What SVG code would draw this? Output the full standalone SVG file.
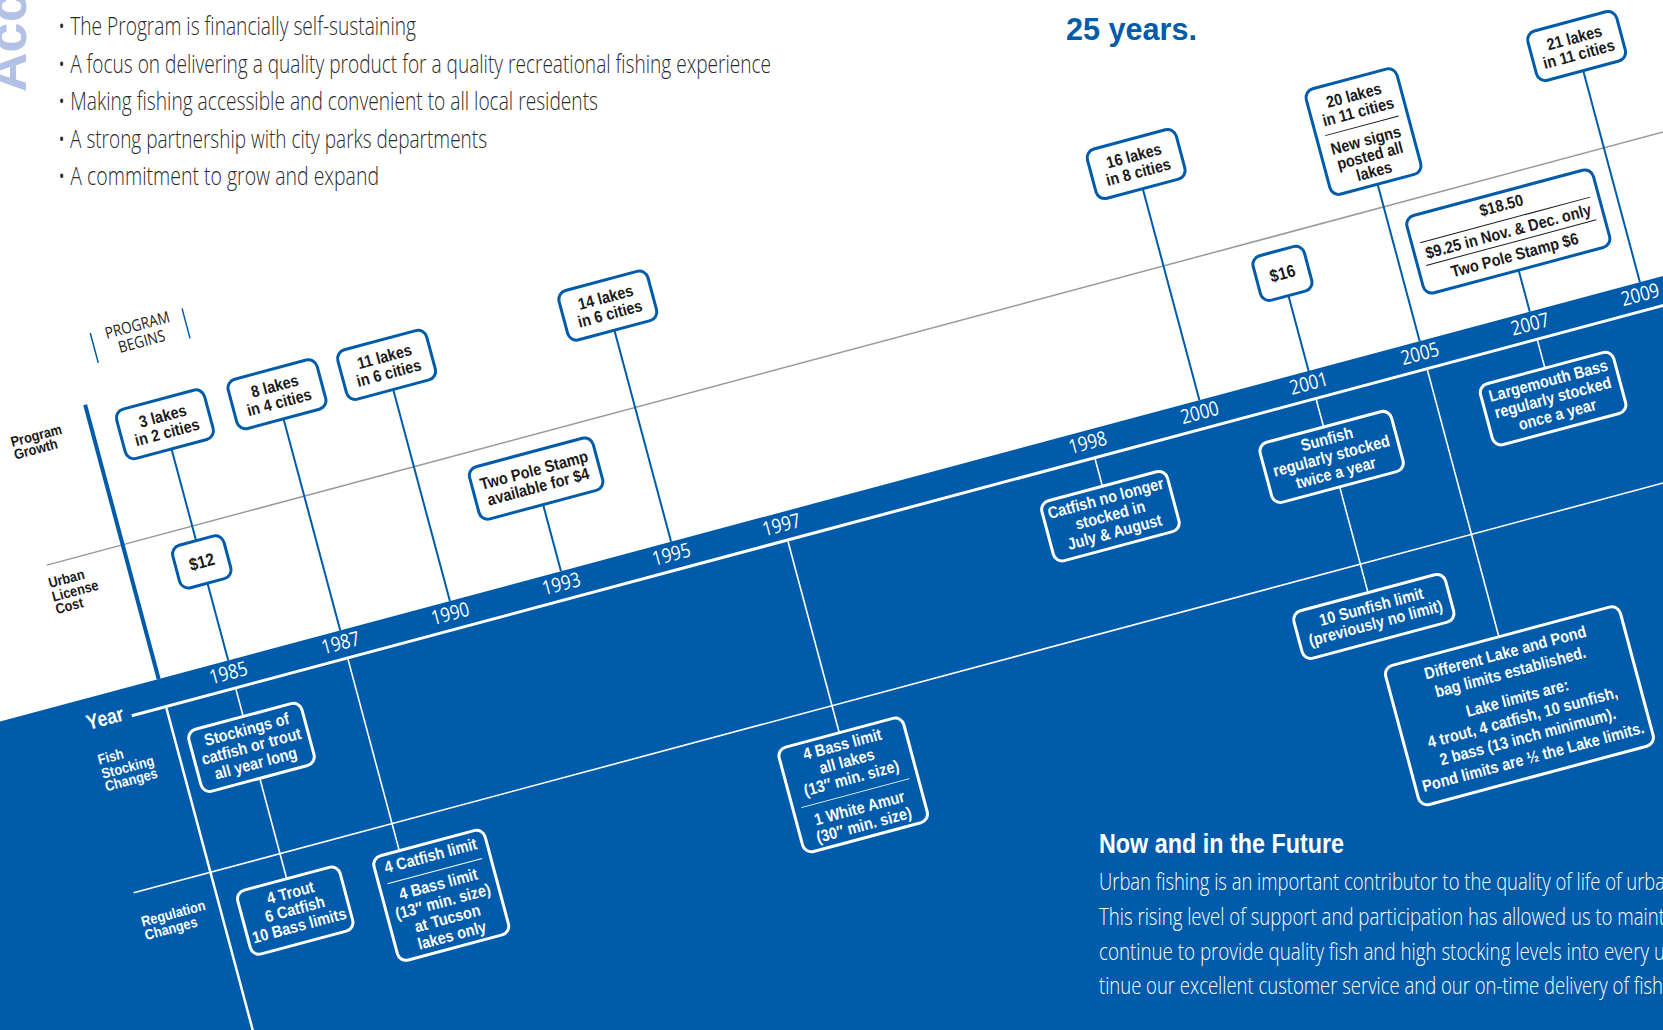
<svg xmlns="http://www.w3.org/2000/svg" width="1663" height="1030" viewBox="0 0 1663 1030">
<style>
.bx{fill:#fff;stroke:#005BAA;stroke-width:3}
.bb{fill:#005BAA;stroke:#fff;stroke-width:3}
.t{font-family:"Liberation Sans",Arial,sans-serif;font-weight:700;font-size:16.5px;text-anchor:middle}
.tk{fill:#1a1a1a}
.tw{fill:#fff}
.dk{stroke:#1a1a1a;stroke-width:1}
.dw{stroke:#fff;stroke-width:1}
.cb{stroke:#005BAA;stroke-width:2;fill:none}
.cw{stroke:#fff;stroke-width:1.6;fill:none}
.yr{font-family:"Open Sans","Liberation Sans",sans-serif;font-weight:400;font-size:20px;fill:#fff;text-anchor:middle}
.lb{font-family:"Liberation Sans",Arial,sans-serif;font-weight:700;font-size:14.5px}
.body{font-family:"Open Sans","Liberation Sans",sans-serif;font-weight:300}
</style>
<rect x="0" y="0" width="1663" height="1030" fill="#fff"/>
<text transform="translate(26,92) rotate(-90)" font-family="Liberation Sans, Arial, sans-serif" font-weight="700" font-size="56" fill="#b3c1e6" textLength="100" lengthAdjust="spacingAndGlyphs">Acc</text>
<g id="intro" class="body" font-size="25" fill="#2a2a2a">
<text x="58" y="35" textLength="358" lengthAdjust="spacingAndGlyphs">• The Program is financially self-sustaining</text>
<text x="58" y="72.5" textLength="713" lengthAdjust="spacingAndGlyphs">• A focus on delivering a quality product for a quality recreational fishing experience</text>
<text x="58" y="110" textLength="540" lengthAdjust="spacingAndGlyphs">• Making fishing accessible and convenient to all local residents</text>
<text x="58" y="147.5" textLength="429" lengthAdjust="spacingAndGlyphs">• A strong partnership with city parks departments</text>
<text x="58" y="185" textLength="321" lengthAdjust="spacingAndGlyphs">• A commitment to grow and expand</text>
</g>
<text id="title" x="1066" y="40" font-family="Liberation Sans, Arial, sans-serif" font-weight="700" font-size="31" fill="#005BAA" textLength="131" lengthAdjust="spacingAndGlyphs">25 years.</text>

<g id="timeline" transform="rotate(-15)">
  <g id="axes">
    <rect x="-400" y="697" width="2300" height="900" fill="#005BAA"/>
    <line x1="-101" y1="558" x2="1650" y2="558" stroke="#999" stroke-width="1.5"/>
    <line x1="-58" y1="725.5" x2="1800" y2="725.5" stroke="#fff" stroke-width="3"/>
    <line x1="-102" y1="897" x2="1800" y2="897" stroke="#fff" stroke-width="1.6"/>
    <line x1="-22.5" y1="413" x2="-22.5" y2="697" stroke="#005BAA" stroke-width="4"/>
    <line x1="-22.5" y1="727" x2="-22.5" y2="1120" stroke="#fff" stroke-width="2.5"/>
    <line x1="1" y1="345" x2="1" y2="376" stroke="#005BAA" stroke-width="1.5"/>
    <line x1="96" y1="345" x2="96" y2="376" stroke="#005BAA" stroke-width="1.5"/>
  </g>
  <g id="labels">
    <g transform="translate(48.5,0) scale(0.85,1)" font-family="Open Sans, Liberation Sans, sans-serif" font-weight="400" font-size="16" fill="#222" text-anchor="middle">
      <text y="355">PROGRAM</text><text y="372">BEGINS</text>
    </g>
    <g transform="translate(-104,0) scale(0.88,1)" class="lb" fill="#1a1a1a">
      <text y="435">Program</text><text y="448">Growth</text>
      <text y="581">Urban</text><text y="595">License</text><text y="608">Cost</text>
    </g>
    <g transform="translate(-102,0) scale(0.88,1)" class="lb" fill="#fff">
      <text y="764.5">Fish</text><text y="779">Stocking</text><text y="792">Changes</text>
      <text y="932">Regulation</text><text y="946">Changes</text>
    </g>
    <g transform="translate(-84.5,728) scale(0.85,1)"><text font-family="Liberation Sans, Arial, sans-serif" font-weight="700" font-size="21" fill="#fff" text-anchor="middle">Year</text></g>
  </g>
  <g id="years">
    <g transform="translate(46.5,716) scale(0.85,1)"><text class="yr">1985</text></g>
    <g transform="translate(162.5,716) scale(0.85,1)"><text class="yr">1987</text></g>
    <g transform="translate(276,716) scale(0.85,1)"><text class="yr">1990</text></g>
    <g transform="translate(391,716) scale(0.85,1)"><text class="yr">1993</text></g>
    <g transform="translate(505,716) scale(0.85,1)"><text class="yr">1995</text></g>
    <g transform="translate(619,716) scale(0.85,1)"><text class="yr">1997</text></g>
    <g transform="translate(936,716) scale(0.85,1)"><text class="yr">1998</text></g>
    <g transform="translate(1052,716) scale(0.85,1)"><text class="yr">2000</text></g>
    <g transform="translate(1165,716) scale(0.85,1)"><text class="yr">2001</text></g>
    <g transform="translate(1280,716) scale(0.85,1)"><text class="yr">2005</text></g>
    <g transform="translate(1394,716) scale(0.85,1)"><text class="yr">2007</text></g>
    <g transform="translate(1508,716) scale(0.85,1)"><text class="yr">2009</text></g>
  </g>
  <g id="connectors">
    <line class="cb" x1="49.5" y1="478" x2="49.5" y2="573"/>
    <line class="cb" x1="49.5" y1="617" x2="49.5" y2="697"/>
    <line class="cb" x1="165.5" y1="477.5" x2="165.5" y2="697"/>
    <line class="cb" x1="279" y1="477.5" x2="279" y2="697"/>
    <line class="cb" x1="394" y1="628" x2="394" y2="697"/>
    <line class="cb" x1="508" y1="478" x2="508" y2="697"/>
    <line class="cb" x1="1055" y1="478" x2="1055" y2="697"/>
    <line class="cb" x1="1168" y1="619" x2="1168" y2="697"/>
    <line class="cb" x1="1283" y1="534.5" x2="1283" y2="697"/>
    <line class="cb" x1="1397" y1="654" x2="1397" y2="697"/>
    <line class="cb" x1="1511" y1="478" x2="1511" y2="697"/>
    <line class="cw" x1="49.5" y1="727" x2="49.5" y2="755"/>
    <line class="cw" x1="49.5" y1="819" x2="49.5" y2="923"/>
    <line class="cw" x1="165.5" y1="727" x2="165.5" y2="925"/>
    <line class="cw" x1="621" y1="727" x2="621" y2="925"/>
    <line class="cw" x1="939" y1="727" x2="939" y2="755"/>
    <line class="cw" x1="1168" y1="727" x2="1168" y2="755"/>
    <line class="cw" x1="1168" y1="817" x2="1168" y2="926.5"/>
    <line class="cw" x1="1283" y1="727" x2="1283" y2="1003"/>
    <line class="cw" x1="1397" y1="727" x2="1397" y2="755.5"/>
  </g>

  <g id="n-1985-growth" transform="translate(49.5,452.5)"><rect class="bx" x="-45.5" y="-25.5" width="91" height="51" rx="9"/><g class="t tk" transform="scale(0.88,1)"><text y="-3">3 lakes</text><text y="14">in 2 cities</text></g></g>
  <g id="n-1987-growth" transform="translate(165.5,452.5)"><rect class="bx" x="-46" y="-25.5" width="92" height="51" rx="9"/><g class="t tk" transform="scale(0.88,1)"><text y="-3">8 lakes</text><text y="14">in 4 cities</text></g></g>
  <g id="n-1990-growth" transform="translate(279,452.5)"><rect class="bx" x="-46" y="-25.5" width="92" height="51" rx="9"/><g class="t tk" transform="scale(0.88,1)"><text y="-3">11 lakes</text><text y="14">in 6 cities</text></g></g>
  <g id="n-1995-growth" transform="translate(508,452.5)"><rect class="bx" x="-46" y="-25.5" width="92" height="51" rx="9"/><g class="t tk" transform="scale(0.88,1)"><text y="-3">14 lakes</text><text y="14">in 6 cities</text></g></g>
  <g id="n-2000-growth" transform="translate(1055,452.5)"><rect class="bx" x="-46" y="-25.5" width="92" height="51" rx="9"/><g class="t tk" transform="scale(0.88,1)"><text y="-3">16 lakes</text><text y="14">in 8 cities</text></g></g>
  <g id="n-2005-growth" transform="translate(1283,480)"><rect class="bx" x="-47" y="-54.5" width="94" height="109" rx="9"/><line class="dk" x1="-38" y1="-6" x2="38" y2="-6"/><g class="t tk" transform="scale(0.88,1)"><text y="-32">20 lakes</text><text y="-15">in 11 cities</text><text y="14.5">New signs</text><text y="30.5">posted all</text><text y="46.5">lakes</text></g></g>
  <g id="n-2009-growth" transform="translate(1511,452.5)"><rect class="bx" x="-46" y="-25.5" width="92" height="51" rx="9"/><g class="t tk" transform="scale(0.88,1)"><text y="-3">21 lakes</text><text y="14">in 11 cities</text></g></g>

  <g id="n-1985-cost" transform="translate(49.5,595)"><rect class="bx" x="-26.5" y="-22" width="53" height="44" rx="9"/><g class="t tk" transform="scale(0.88,1)"><text y="6" font-size="17.5">$12</text></g></g>
  <g id="n-1993-cost" transform="translate(394,601)"><rect class="bx" x="-64" y="-27" width="128" height="54" rx="9"/><g class="t tk" transform="scale(0.88,1)"><text y="-3">Two Pole Stamp</text><text y="14">available for $4</text></g></g>
  <g id="n-2001-cost" transform="translate(1168,596)"><rect class="bx" x="-26.5" y="-23" width="53" height="46" rx="9"/><g class="t tk" transform="scale(0.88,1)"><text y="6" font-size="17.5">$16</text></g></g>
  <g id="n-2007-cost" transform="translate(1397,614)"><rect class="bx" x="-96.5" y="-40" width="193" height="80" rx="9"/><line class="dk" x1="-88" y1="-12" x2="88" y2="-12"/><line class="dk" x1="-88" y1="11.5" x2="88" y2="11.5"/><g class="t tk" transform="scale(0.88,1)"><text y="-21.5">$18.50</text><text y="5.5">$9.25 in Nov. &amp; Dec. only</text><text y="30">Two Pole Stamp $6</text></g></g>

  <g id="n-1985-stock" transform="translate(49.5,787)"><rect class="bb" x="-58.5" y="-32" width="117" height="64" rx="9"/><g class="t tw" transform="scale(0.88,1)"><text y="-13">Stockings of</text><text y="4.5">catfish or trout</text><text y="22">all year long</text></g></g>
  <g id="n-1998-stock" transform="translate(939,786)"><rect class="bb" x="-65" y="-31" width="130" height="62" rx="9"/><g class="t tw" transform="scale(0.88,1)"><text y="-13">Catfish no longer</text><text y="4.5">stocked in</text><text y="22">July &amp; August</text></g></g>
  <g id="n-2001-stock" transform="translate(1168,786)"><rect class="bb" x="-68" y="-31" width="136" height="62" rx="9"/><g class="t tw" transform="scale(0.88,1)"><text y="-13">Sunfish</text><text y="4.5">regularly stocked</text><text y="22">twice a year</text></g></g>
  <g id="n-2007-stock" transform="translate(1397,787)"><rect class="bb" x="-69" y="-31.5" width="138" height="63" rx="9"/><g class="t tw" transform="scale(0.88,1)"><text y="-13">Largemouth Bass</text><text y="4.5">regularly stocked</text><text y="22">once a year</text></g></g>

  <g id="n-1985-reg" transform="translate(49.5,956)"><rect class="bb" x="-53" y="-33" width="106" height="66" rx="9"/><g class="t tw" transform="scale(0.88,1)"><text y="-13">4 Trout</text><text y="4">6 Catfish</text><text y="21">10 Bass limits</text></g></g>
  <g id="n-1987-reg" transform="translate(194.5,979)"><rect class="bb" x="-57.5" y="-54" width="115" height="108" rx="9"/><line class="dw" x1="-49" y1="-25" x2="49" y2="-25"/><g class="t tw" transform="scale(0.88,1)"><text y="-35.5">4 Catfish limit</text><text y="-6">4 Bass limit</text><text y="12">(13″ min. size)</text><text y="29.5">at Tucson</text><text y="47">lakes only</text></g></g>
  <g id="n-1997-reg" transform="translate(621,979)"><rect class="bb" x="-64.5" y="-54" width="129" height="108" rx="9"/><line class="dw" x1="-56" y1="8.5" x2="56" y2="8.5"/><g class="t tw" transform="scale(0.88,1)"><text y="-36.5">4 Bass limit</text><text y="-19">all lakes</text><text y="-1.5">(13″ min. size)</text><text y="29.5">1 White Amur</text><text y="47">(30″ min. size)</text></g></g>
  <g id="n-2001-reg" transform="translate(1167.5,951)"><rect class="bb" x="-78.5" y="-24.5" width="157" height="49" rx="9"/><g class="t tw" transform="scale(0.88,1)"><text y="-4.5">10 Sunfish limit</text><text y="12.5">(previously no limit)</text></g></g>
  <g id="n-2005-reg" transform="translate(1285,1075)"><rect class="bb" x="-121.5" y="-72" width="243" height="144" rx="9"/><g class="t tw" transform="scale(0.88,1)"><text y="-49.5">Different Lake and Pond</text><text y="-29.5">bag limits established.</text><text y="-2.5">Lake limits are:</text><text y="17.5">4 trout, 4 catfish, 10 sunfish,</text><text y="37.5">2 bass (13 inch minimum).</text><text y="58.5">Pond limits are ½ the Lake limits.</text></g></g>
</g>

<g id="future" fill="#fff">
<text x="1099" y="853" font-family="Liberation Sans, Arial, sans-serif" font-weight="700" font-size="28" textLength="245" lengthAdjust="spacingAndGlyphs">Now and in the Future</text>
<g class="body" font-size="24">
<text x="1099" y="890" textLength="566" lengthAdjust="spacingAndGlyphs">Urban fishing is an important contributor to the quality of life of urba</text>
<text x="1099" y="925" textLength="566" lengthAdjust="spacingAndGlyphs">This rising level of support and participation has allowed us to maint</text>
<text x="1099" y="959.5" textLength="566" lengthAdjust="spacingAndGlyphs">continue to provide quality fish and high stocking levels into every u</text>
<text x="1099" y="993.5" textLength="564" lengthAdjust="spacingAndGlyphs">tinue our excellent customer service and our on-time delivery of fish</text>
</g>
</g>
</svg>
